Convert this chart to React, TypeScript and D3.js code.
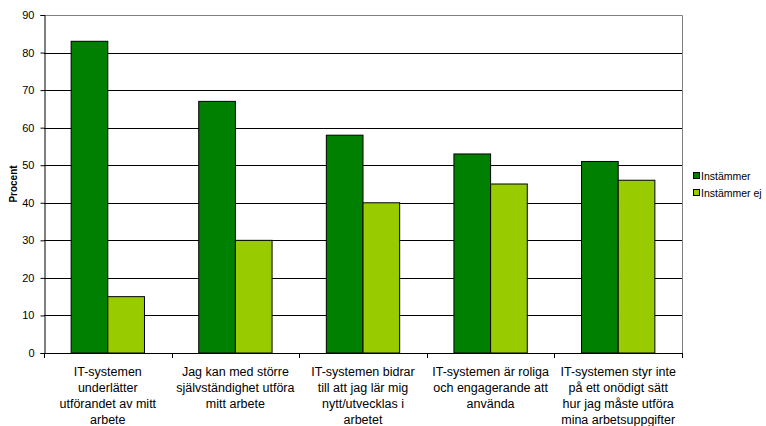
import { useRef, useEffect } from "react";
import * as d3 from "d3";

const categories = [
  ["IT-systemen", "underlätter", "utförandet av mitt", "arbete"],
  ["Jag kan med större", "självständighet utföra", "mitt arbete"],
  ["IT-systemen bidrar", "till att jag lär mig", "nytt/utvecklas i", "arbetet"],
  ["IT-systemen är roliga", "och engagerande att", "använda"],
  ["IT-systemen styr inte", "på ett onödigt sätt", "hur jag måste utföra", "mina arbetsuppgifter"],
];
const seriesNames = ["Instämmer", "Instämmer ej"];
const instammer = [83, 67, 58, 53, 51];
const instammerEj = [15, 30, 40, 45, 46];
const yTicks = [0, 10, 20, 30, 40, 50, 60, 70, 80, 90];
const colors = ["#008000", "#99CC00"];

const W = 766;
const H = 426;
const left = 44;
const right = 682;
const top = 15;
const bottom = 353;
const font = "Arial, 'Liberation Sans', sans-serif";

export default function App() {
  const ref = useRef<SVGSVGElement>(null);

  useEffect(() => {
    const svg = d3.select(ref.current);
    svg.selectAll("*").remove();

    const idx = categories.map((_, i) => i);
    const x = d3.scaleBand<number>().domain(idx).range([left, right]).paddingInner(0).paddingOuter(0);
    const x1 = d3
      .scaleBand<number>()
      .domain([0, 1])
      .range([0, x.bandwidth()])
      .paddingOuter(0.74)
      .paddingInner(0);
    const y = d3.scaleLinear().domain([0, 90]).range([bottom, top]);

    // plot border (top/right)
    svg
      .append("path")
      .attr("d", `M${left},${top + 0.5}H${right + 0.5}V${bottom}`)
      .attr("fill", "none")
      .attr("stroke", "#808080")
      .attr("stroke-width", 1);

    // gridlines
    svg
      .append("g")
      .selectAll("line")
      .data(yTicks.filter((t) => t > 0 && t < 90))
      .enter()
      .append("line")
      .attr("x1", left)
      .attr("x2", right)
      .attr("y1", (d) => Math.round(y(d)) + 0.5)
      .attr("y2", (d) => Math.round(y(d)) + 0.5)
      .attr("stroke", "#000")
      .attr("stroke-width", 1);

    // bars
    const data = [instammer, instammerEj];
    const g = svg.append("g");
    data.forEach((vals, s) => {
      g.selectAll(`rect.s${s}`)
        .data(vals)
        .enter()
        .append("rect")
        .attr("x", (_, i) => (x(i) as number) + (x1(s) as number))
        .attr("y", (d) => y(d))
        .attr("width", x1.bandwidth())
        .attr("height", (d) => bottom - y(d))
        .attr("fill", colors[s])
        .attr("stroke", "#000")
        .attr("stroke-width", 1);
    });

    // y axis
    const yAxis = svg
      .append("g")
      .attr("transform", `translate(${left + 0.5},0)`)
      .call(d3.axisLeft(y).tickValues(yTicks).tickSize(4).tickPadding(6));
    yAxis.select(".domain").attr("stroke", "#000");
    yAxis.selectAll("text").attr("font-size", 11).attr("font-family", font).attr("fill", "#000");

    // x axis
    svg
      .append("line")
      .attr("x1", left)
      .attr("x2", right + 1)
      .attr("y1", bottom + 0.5)
      .attr("y2", bottom + 0.5)
      .attr("stroke", "#000");
    const tickXs = idx.map((i) => x(i) as number).concat([right]);
    svg
      .append("g")
      .selectAll("line")
      .data(tickXs)
      .enter()
      .append("line")
      .attr("x1", (d) => Math.round(d) + 0.5)
      .attr("x2", (d) => Math.round(d) + 0.5)
      .attr("y1", bottom)
      .attr("y2", bottom + 5)
      .attr("stroke", "#000");

    // category labels
    const labels = svg.append("g");
    categories.forEach((lines, i) => {
      const cx = (x(i) as number) + x.bandwidth() / 2;
      const t = labels
        .append("text")
        .attr("text-anchor", "middle")
        .attr("font-family", font)
        .attr("font-size", 12.5)
        .attr("fill", "#000");
      lines.forEach((ln, j) => {
        t.append("tspan").attr("x", cx).attr("y", 376 + j * 16).text(ln);
      });
    });

    // y label
    svg
      .append("text")
      .attr("transform", `translate(17,${(top + bottom) / 2}) rotate(-90)`)
      .attr("text-anchor", "middle")
      .attr("font-family", font)
      .attr("font-size", 10)
      .attr("font-weight", "bold")
      .text("Procent");

    // legend
    const lg = svg.append("g").attr("transform", "translate(693,172)");
    seriesNames.forEach((name, i) => {
      lg.append("rect")
        .attr("x", 0.5)
        .attr("y", i * 17 + 0.5)
        .attr("width", 6)
        .attr("height", 6)
        .attr("fill", colors[i])
        .attr("stroke", "#000");
      lg.append("text")
        .attr("x", 8)
        .attr("y", i * 17 + 7.5)
        .attr("font-family", font)
        .attr("font-size", 10.5)
        .text(name);
    });
  }, []);

  return (
    <svg
      ref={ref}
      width={W}
      height={H}
      style={{ position: "absolute", left: 0, top: 0, background: "#fff" }}
    />
  );
}
